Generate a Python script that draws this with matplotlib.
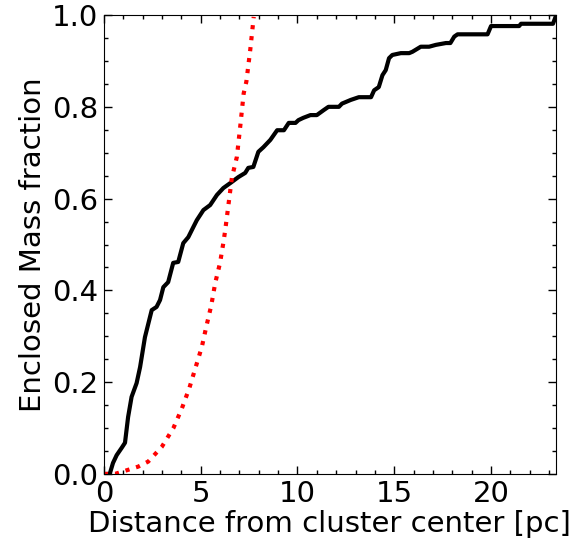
import matplotlib
matplotlib.use("Agg")
import matplotlib.pyplot as plt
from matplotlib.ticker import MultipleLocator

# Black: enclosed mass fraction of cluster members
r_obs = [0.0, 0.3, 0.47, 0.66, 0.92, 1.09, 1.25, 1.43, 1.69, 1.87, 2.12, 2.47, 2.72, 2.9,
         3.07, 3.32, 3.58, 3.84, 4.1, 4.36, 4.62, 4.8, 5.14, 5.49, 5.84, 6.17, 6.6, 6.95,
         7.3, 7.46, 7.72, 7.98, 8.24, 8.6, 8.95, 9.3, 9.55, 9.9, 10.05, 10.3, 10.67, 11.0,
         11.36, 11.6, 12.14, 12.3, 12.75, 13.17, 13.8, 13.96, 14.2, 14.39, 14.56, 14.73,
         14.9, 15.34, 15.77, 15.94, 16.37, 16.8, 17.15, 17.67, 17.9, 18.1, 18.27, 19.82,
         20.0, 21.45, 21.55, 23.2, 23.37]
m_obs = [0.0, 0.0, 0.024, 0.041, 0.057, 0.068, 0.124, 0.168, 0.198, 0.233, 0.298, 0.357,
         0.364, 0.379, 0.407, 0.418, 0.46, 0.462, 0.503, 0.516, 0.538, 0.553, 0.575, 0.586,
         0.608, 0.623, 0.636, 0.647, 0.656, 0.667, 0.669, 0.702, 0.712, 0.728, 0.749, 0.749,
         0.765, 0.765, 0.771, 0.776, 0.782, 0.782, 0.793, 0.8, 0.8, 0.807, 0.815, 0.821,
         0.821, 0.836, 0.843, 0.869, 0.88, 0.906, 0.913, 0.917, 0.917, 0.92, 0.931, 0.931,
         0.935, 0.939, 0.939, 0.953, 0.958, 0.958, 0.976, 0.976, 0.981, 0.981, 1.0]

# Red dotted: uniform-density reference curve
r_ref = [0.0, 0.6, 1.25, 1.77, 2.29, 2.99, 3.59, 4.03, 4.42, 4.75, 5.06, 5.29, 5.55, 5.75,
         6.0, 6.18, 6.27, 6.61, 6.87, 7.05, 7.22, 7.36, 7.56, 7.74]
m_ref = [0.0, 0.0005, 0.009, 0.016, 0.027, 0.059, 0.1, 0.143, 0.188, 0.234, 0.277, 0.321,
         0.368, 0.416, 0.46, 0.506, 0.532, 0.645, 0.691, 0.76, 0.829, 0.855, 0.924, 0.996]

x_ticks = [0, 5, 10, 15, 20]
y_ticks = [0.0, 0.2, 0.4, 0.6, 0.8, 1.0]

fig = plt.figure(figsize=(5.87, 5.47), dpi=100)
ax = fig.add_axes([0.177, 0.1335, 0.770, 0.839])
ax.plot(r_obs, m_obs, color="black", lw=3)
ax.plot(r_ref, m_ref, color="red", lw=3, linestyle=":")
ax.set_xlim(0, 23.35)
ax.set_ylim(0, 1.0)
ax.set_xticks(x_ticks)
ax.set_yticks(y_ticks)
ax.set_yticklabels([f"{v:.1f}" for v in y_ticks])
ax.xaxis.set_minor_locator(MultipleLocator(1))
ax.yaxis.set_minor_locator(MultipleLocator(0.05))
ax.tick_params(which="both", direction="in", top=True, right=True, labelsize=21)
ax.tick_params(which="major", length=6, width=1, pad=4)
ax.tick_params(which="minor", length=3, width=1)
ax.set_xlabel("Distance from cluster center [pc]", fontsize=21, labelpad=2)
ax.set_ylabel("Enclosed Mass fraction", fontsize=21, labelpad=4)
fig.savefig("out.png", dpi=100)
